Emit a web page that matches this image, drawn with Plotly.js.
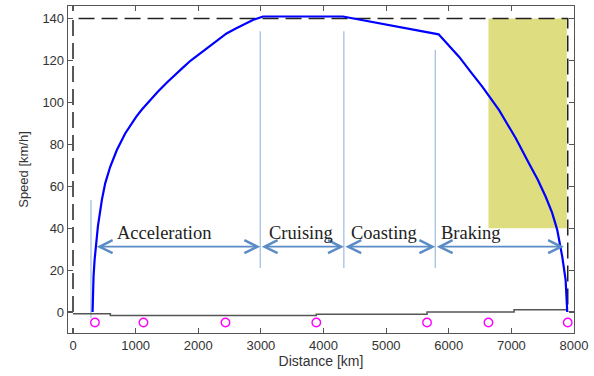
<!DOCTYPE html>
<html>
<head>
<meta charset="utf-8">
<script src="https://cdn.plot.ly/plotly-3.0.1.min.js"></script>
<style>
  html, body { margin: 0; padding: 0; background: #fff; }
  #chart { width: 594px; height: 376px; }
</style>
</head>
<body>
<div id="chart"></div>
<script>
// Speed profile of the train along the route
const speedDist = [312, 318, 328, 345, 366, 398, 461, 514, 594, 700, 833, 1008, 1100, 1231, 1350, 1500, 1620, 1750, 1880, 2027, 2140, 2250, 2452, 2600, 2750, 2880, 3035, 4310, 5838, 6000, 6167, 6350, 6538, 6804, 7070, 7282, 7420, 7548, 7650, 7732, 7812, 7866, 7892];
const speedKmh  = [0, 8, 17, 25, 31, 41, 53.5, 61.4, 69.3, 77.3, 85.2, 93.1, 96.6, 101.1, 105, 109.5, 113, 116.5, 120, 123.3, 126, 128.5, 132.9, 135.3, 137.6, 139.4, 141, 141, 132.5, 127.4, 121.7, 114.6, 107.4, 96.3, 82.9, 70.9, 63.2, 55.0, 47.4, 39.2, 26.5, 15.4, 0];

// Track gradient profile (step line near zero)
const gradeDist = [0, 596, 3885, 5653, 7043, 7892];
const gradeVal  = [-0.8, -1.6, -1.1, 0, 1.1, 1.1];

// Stations along the line
const stationDist = [350, 1125, 2435, 3885, 5653, 6634, 7900];
const stationLevel = -5;

// Speed limit envelope (dashed)
const limitDist = [0, 0, 7900, 7900];
const limitKmh  = [0, 140, 140, 0];

// Braking zone
const brakeZoneDist = [6634, 7885];
const brakeZoneKmh  = [40, 140];

// Driving phases
const phaseNames = ['Acceleration', 'Cruising', 'Coasting', 'Braking'];
const phaseStart = [355, 2990, 4325, 5785];
const phaseEnd   = [2990, 4325, 5785, 7840];
const phaseLabelX = [1454, 3637, 4965, 6354];
const phaseArrowY = 31.2;
const phaseLabelY = 37.5;

// Phase boundary markers
const boundaryX    = [287, 2990, 4325, 5785];
const boundaryLow  = [-3, 21, 21, 21];
const boundaryHigh = [53.5, 134, 134, 125];

const traces = [];

traces.push({
  x: [brakeZoneDist[0], brakeZoneDist[1], brakeZoneDist[1], brakeZoneDist[0], brakeZoneDist[0]],
  y: [brakeZoneKmh[0], brakeZoneKmh[0], brakeZoneKmh[1], brakeZoneKmh[1], brakeZoneKmh[0]],
  mode: 'lines', fill: 'toself', fillcolor: '#dede80',
  line: { width: 0, color: '#dede80' }, hoverinfo: 'skip'
});

boundaryX.forEach((bx, i) => {
  traces.push({
    x: [bx, bx], y: [boundaryLow[i], boundaryHigh[i]],
    mode: 'lines', line: { color: '#9dbbe0', width: 1.2 }, hoverinfo: 'skip'
  });
});

traces.push({
  x: limitDist, y: limitKmh, mode: 'lines',
  line: { color: '#222', width: 1.5, dash: '16px,7px' }, hoverinfo: 'skip'
});

traces.push({
  x: gradeDist, y: gradeVal, mode: 'lines',
  line: { color: '#555', width: 1.5, shape: 'hv' }, hoverinfo: 'skip'
});

traces.push({
  x: speedDist, y: speedKmh, mode: 'lines',
  line: { color: '#0000ff', width: 2.2 }, hoverinfo: 'skip'
});

traces.push({
  x: stationDist, y: stationDist.map(() => stationLevel), mode: 'markers',
  marker: { symbol: 'circle-open', size: 8.5, color: '#ff00ff', line: { width: 1.4, color: '#ff00ff' } },
  hoverinfo: 'skip'
});

const annotations = [];
phaseNames.forEach((name, i) => {
  annotations.push({
    x: phaseEnd[i], y: phaseArrowY, ax: phaseStart[i], ay: phaseArrowY,
    xref: 'x', yref: 'y', axref: 'x', ayref: 'y',
    text: '', showarrow: true, arrowside: 'end+start',
    arrowhead: 5, startarrowhead: 5, arrowsize: 1.6, startarrowsize: 1.6,
    arrowwidth: 1.6, arrowcolor: '#5b8cc6'
  });
  annotations.push({
    x: phaseLabelX[i], y: phaseLabelY, xref: 'x', yref: 'y',
    text: name, showarrow: false, yanchor: 'middle',
    font: { family: 'Liberation Serif, serif', size: 18.5, color: '#222' }
  });
});

const axisCommon = {
  showgrid: false, zeroline: false, showline: true, mirror: 'ticks',
  linecolor: '#555', linewidth: 1.3, ticks: 'inside', ticklen: 5,
  tickcolor: '#555', tickwidth: 1.2,
  tickfont: { family: 'Liberation Sans, Arial, sans-serif', size: 13, color: '#333' }
};

const layout = {
  width: 594, height: 376,
  margin: { l: 68, r: 20, t: 6, b: 43 },
  paper_bgcolor: '#fff', plot_bgcolor: '#fff',
  showlegend: false,
  xaxis: Object.assign({}, axisCommon, {
    range: [-80, 8000], dtick: 1000, tick0: 0,
    title: { text: 'Distance [km]', standoff: 4, font: { family: 'Liberation Sans, Arial, sans-serif', size: 14, color: '#333' } }
  }),
  yaxis: Object.assign({}, axisCommon, {
    range: [-10, 146], dtick: 20, tick0: 0,
    title: { text: 'Speed [km/h]', standoff: 10, font: { family: 'Liberation Sans, Arial, sans-serif', size: 13, color: '#333' } }
  }),
  annotations: annotations
};

Plotly.newPlot('chart', traces, layout, { displayModeBar: false, staticPlot: true });
</script>
</body>
</html>
